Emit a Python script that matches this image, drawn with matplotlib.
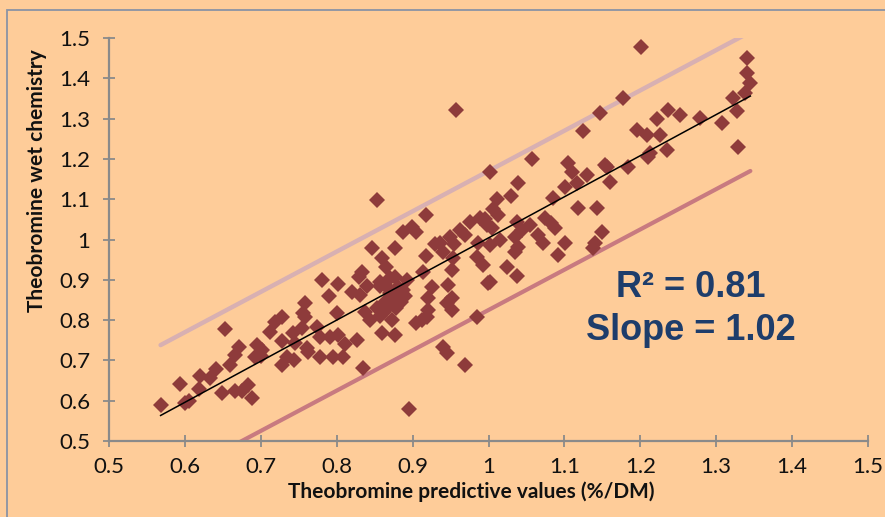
import matplotlib
matplotlib.use("Agg")
import matplotlib.pyplot as plt
from matplotlib.patches import Rectangle
import numpy as np

# ---- data ----
x_pred = [0.568, 0.594, 0.600, 0.605, 0.620, 0.619, 0.633, 0.641, 0.649, 0.653,
          0.659, 0.666, 0.671, 0.666, 0.675, 0.688, 0.695, 0.702, 0.692, 0.700,
          0.719, 0.728, 0.728, 0.728, 0.744, 0.745, 0.735, 0.742, 0.754, 0.758,
          0.756, 0.758, 0.761, 0.774, 0.778, 0.778, 0.781, 0.790, 0.791, 0.795,
          0.800, 0.802, 0.802, 0.808, 0.811, 0.820, 0.827, 0.829, 0.833, 0.831,
          0.837, 0.835, 0.844, 0.846, 0.853, 0.853, 0.857, 0.857, 0.857, 0.860,
          0.860, 0.864, 0.865, 0.870, 0.870, 0.870, 0.873, 0.877, 0.877, 0.877,
          0.879, 0.881, 0.887, 0.888, 0.893, 0.895, 0.899, 0.905, 0.905, 0.912,
          0.914, 0.918, 0.918, 0.919, 0.920, 0.920, 0.925, 0.936, 0.940, 0.945,
          0.945, 0.947, 0.949, 0.952, 0.952, 0.952, 0.953, 0.957, 0.962, 0.969,
          0.969, 0.976, 0.985, 0.985, 0.986, 0.989, 0.993, 0.998, 0.999, 1.002,
          1.002, 1.002, 1.005, 1.006, 1.011, 1.012, 1.015, 1.024, 1.030, 1.035,
          1.035, 1.037, 1.037, 1.039, 1.039, 1.044, 1.055, 1.057, 1.065, 1.072,
          1.074, 1.083, 1.088, 1.085, 1.092, 1.101, 1.101, 1.105, 1.110, 1.117,
          1.118, 1.125, 1.130, 1.138, 1.140, 1.143, 1.147, 1.150, 1.153, 1.156,
          1.160, 1.177, 1.184, 1.195, 1.201, 1.209, 1.210, 1.213, 1.222, 1.226,
          1.235, 1.237, 1.252, 1.279, 1.308, 1.322, 1.327, 1.329, 1.338, 1.340,
          1.340, 1.345, 0.862, 0.875, 0.885, 0.868, 0.890, 0.878, 0.940, 0.955,
          0.930, 0.995, 0.840, 0.762, 0.683, 0.712]
y_wet = [0.589, 0.641, 0.594, 0.600, 0.661, 0.629, 0.656, 0.678, 0.619, 0.778,
         0.689, 0.713, 0.733, 0.625, 0.625, 0.607, 0.738, 0.726, 0.708, 0.712,
         0.795, 0.808, 0.748, 0.689, 0.700, 0.743, 0.709, 0.768, 0.780, 0.842,
         0.818, 0.808, 0.731, 0.783, 0.758, 0.709, 0.900, 0.860, 0.758, 0.709,
         0.818, 0.890, 0.763, 0.709, 0.740, 0.870, 0.751, 0.907, 0.919, 0.862,
         0.820, 0.680, 0.800, 0.979, 1.098, 0.830, 0.810, 0.885, 0.895, 0.954,
         0.768, 0.845, 0.932, 0.837, 0.867, 0.904, 0.800, 0.763, 0.907, 0.979,
         0.850, 0.883, 0.875, 1.019, 0.900, 0.579, 1.031, 1.019, 0.793, 0.800,
         0.919, 1.061, 0.959, 0.808, 0.825, 0.855, 0.882, 0.991, 0.734, 0.718,
         0.842, 0.887, 1.006, 0.924, 0.855, 0.825, 0.954, 1.321, 1.024, 1.011,
         0.689, 1.043, 0.808, 0.957, 0.991, 1.053, 0.937, 1.036, 0.892, 1.168,
         0.986, 0.895, 1.029, 1.076, 1.100, 1.061, 0.999, 0.932, 1.108, 1.006,
         0.969, 1.043, 0.909, 1.140, 0.981, 1.024, 1.036, 1.200, 1.011, 0.991,
         1.053, 1.041, 1.029, 1.103, 0.962, 0.991, 1.130, 1.190, 1.168, 1.140,
         1.078, 1.269, 1.160, 0.979, 0.991, 1.078, 1.313, 1.019, 1.185, 1.180,
         1.143, 1.351, 1.180, 1.272, 1.478, 1.259, 1.205, 1.215, 1.299, 1.259,
         1.222, 1.321, 1.309, 1.302, 1.289, 1.351, 1.319, 1.230, 1.363, 1.413,
         1.450, 1.389, 0.820, 0.860, 0.845, 0.880, 0.860, 0.830, 0.970, 0.990,
         0.990, 1.050, 0.885, 0.720, 0.640, 0.770]

fit_slope = 1.02
fit_intercept = -0.016
upper_offset = 0.17
lower_offset = -0.175

x_ticks = [0.5, 0.6, 0.7, 0.8, 0.9, 1.0, 1.1, 1.2, 1.3, 1.4, 1.5]
x_tick_labels = ["0.5", "0.6", "0.7", "0.8", "0.9", "1", "1.1", "1.2", "1.3", "1.4", "1.5"]
y_ticks = [0.5, 0.6, 0.7, 0.8, 0.9, 1.0, 1.1, 1.2, 1.3, 1.4, 1.5]
y_tick_labels = ["0.5", "0.6", "0.7", "0.8", "0.9", "1", "1.1", "1.2", "1.3", "1.4", "1.5"]

x_label = "Theobromine predictive values (%/DM)"
y_label = "Theobromine wet chemistry"
stat_lines = ["R² = 0.81", "Slope = 1.02"]

# ---- style ----
BG = "#FECC99"
MARKER = "#8E3B3B"
AXIS = "#8A8A8A"
TXT_BLUE = "#1E3D6B"
plt.rcParams['font.family'] = ['Lato', 'DejaVu Sans']

fig = plt.figure(figsize=(8.85, 5.17), dpi=100, facecolor=BG)
W, H = 885, 517
ax = fig.add_axes([109 / W, 1 - 441 / H, (868 - 109) / W, (441 - 38) / H])
ax.set_facecolor(BG)

# outer frame
fig.patches.append(Rectangle((7 / W, -0.1), 1.2, 1 - 10 / H + 0.1, transform=fig.transFigure,
                             fill=False, edgecolor="#8A93A5", linewidth=1.3, zorder=0))

xs = np.array(x_pred)
ys = np.array(y_wet)
xr = np.array([xs.min(), xs.max()])

ax.plot(xr, xr + upper_offset, color="#D8B0B2", lw=3.2, solid_capstyle='round', zorder=2)
ax.plot(xr, xr + lower_offset, color="#C87A80", lw=3.0, solid_capstyle='round', zorder=2)
ax.plot(xs, ys, linestyle='none', marker='D', ms=7.8, color=MARKER, mec=MARKER, mew=0, zorder=3)
ax.plot(xr, fit_slope * xr + fit_intercept, color="black", lw=1.1, zorder=4)

ax.set_xlim(0.5, 1.5)
ax.set_ylim(0.5, 1.5)
ax.set_xticks(x_ticks)
ax.set_xticklabels(x_tick_labels)
ax.set_yticks(y_ticks)
ax.set_yticklabels(y_tick_labels)
for s in ["top", "right"]:
    ax.spines[s].set_visible(False)
for s in ["left", "bottom"]:
    ax.spines[s].set_color(AXIS)
    ax.spines[s].set_linewidth(1.6)
ax.tick_params(direction='inout', length=9, width=1.3, color=AXIS, labelsize=16,
               labelcolor="#111111")
ax.tick_params(axis='x', pad=7)
ax.tick_params(axis='y', pad=9)

fig.text(471 / W, 1 - 492 / H, x_label, ha='center', va='center',
         fontsize=15, fontweight='bold', color="#111111")
fig.text(37 / W, 1 - 181 / H, y_label, ha='center', va='center',
         rotation=90, fontsize=15, fontweight='bold', color="#111111")

fig.text(691 / W, 1 - 297 / H, stat_lines[0], ha='center', va='baseline',
         fontsize=26, fontweight='bold', color=TXT_BLUE, family=['Liberation Sans', 'DejaVu Sans'])
fig.text(691 / W, 1 - 340 / H, stat_lines[1], ha='center', va='baseline',
         fontsize=26, fontweight='bold', color=TXT_BLUE, family=['Liberation Sans', 'DejaVu Sans'])

fig.savefig("out.png", dpi=100, facecolor=BG)
